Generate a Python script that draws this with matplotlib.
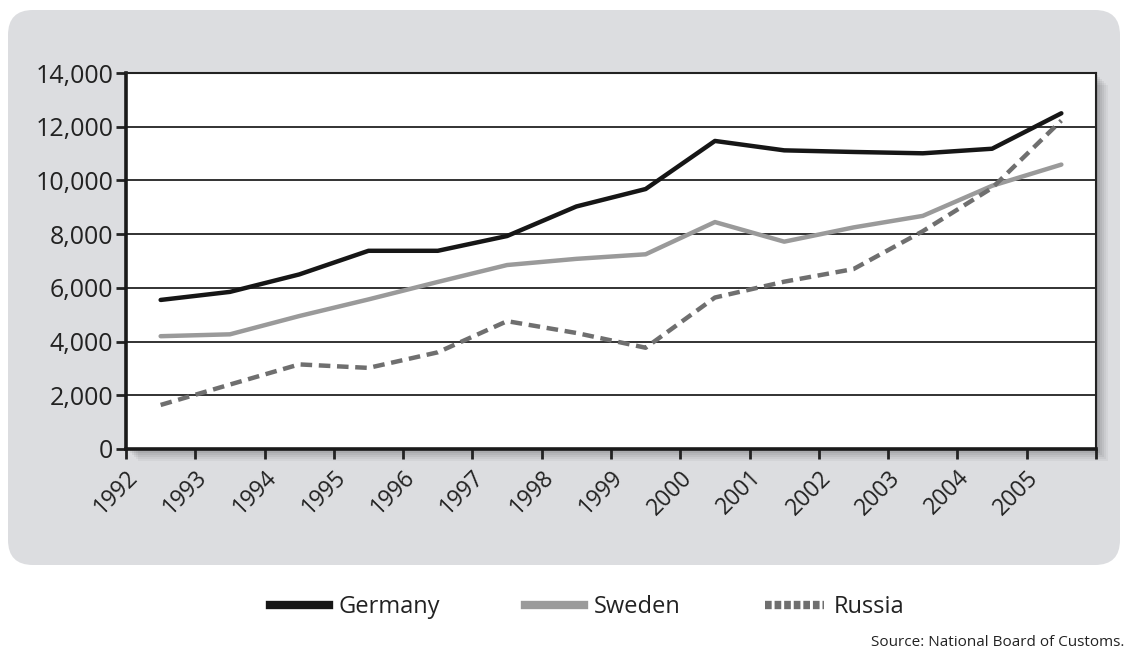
import matplotlib
matplotlib.use("Agg")
import matplotlib.pyplot as plt
from matplotlib.patches import FancyBboxPatch, Rectangle
from matplotlib.transforms import IdentityTransform
from matplotlib.lines import Line2D
import numpy as np

plt.rcParams['font.family'] = ['Open Sans', 'DejaVu Sans']

years = ['1992', '1993', '1994', '1995', '1996', '1997', '1998',
         '1999', '2000', '2001', '2002', '2003', '2004', '2005']
germany = [5550, 5850, 6500, 7380, 7380, 7930, 9030, 9680, 11470,
           11120, 11060, 11010, 11180, 12500]
sweden = [4200, 4270, 4950, 5570, 6220, 6850, 7080, 7250, 8450,
          7720, 8250, 8680, 9800, 10590]
russia = [1640, 2400, 3150, 3020, 3600, 4760, 4320, 3770, 5640,
          6230, 6700, 8110, 9720, 12230]
yticks = [0, 2000, 4000, 6000, 8000, 10000, 12000, 14000]

W, H = 1127, 656
fig = plt.figure(figsize=(W / 100, H / 100), dpi=100)
fig.patch.set_facecolor('white')

# rounded grey panel (pixel coords)
panel = FancyBboxPatch((8 + 25, 91 + 25), 1112 - 50, 555 - 50,
                       boxstyle="round,pad=25", transform=IdentityTransform(),
                       facecolor='#dcdde0', edgecolor='none', zorder=-3)
fig.patches.append(panel)

# plot area
L, R, T, B = 126, 1096, 73, 449
ax = fig.add_axes([L / W, 1 - B / H, (R - L) / W, (B - T) / H])

# drop shadow
for i, a in enumerate([0.04, 0.04, 0.05, 0.05, 0.06, 0.07]):
    off = 12 - 2 * i
    sh = Rectangle((L + off, H - B - off), R - L, B - T,
                   transform=IdentityTransform(), facecolor='black',
                   edgecolor='none', alpha=a, zorder=-1)
    fig.patches.append(sh)

x = np.arange(len(years)) + 0.5
ax.plot(x, germany, color='#161616', lw=3.2, solid_capstyle='round', zorder=3)
ax.plot(x, sweden, color='#9a9a9a', lw=3.2, solid_capstyle='round', zorder=3)
ax.plot(x, russia, color='#6f6f6f', lw=3.2, ls=(0, (2.6, 1.5)),
        dash_capstyle='butt', zorder=3)

ax.set_xlim(0, len(years))
ax.set_ylim(0, 14000)
ax.set_yticks(yticks)
ax.set_yticklabels([f"{v:,}" for v in yticks], fontsize=18, color='#222222')
ax.set_xticks(np.arange(len(years) + 1))
ax.set_xticklabels(years + [''], rotation=45, ha='right',
                   rotation_mode='anchor', fontsize=16.5, color='#222222')
ax.tick_params(axis='both', length=7, width=2, color='#222222', direction='out')
ax.tick_params(axis='x', pad=5)
ax.tick_params(axis='y', pad=2)
ax.grid(axis='y', color='#222222', lw=1.3, zorder=1)
ax.set_axisbelow(True)
for s in ['left', 'bottom']:
    ax.spines[s].set_linewidth(2.6)
    ax.spines[s].set_color('#1a1a1a')
for s in ['top', 'right']:
    ax.spines[s].set_linewidth(1.5)
    ax.spines[s].set_color('#222222')

handles = [Line2D([], [], color='#161616', lw=6),
           Line2D([], [], color='#9a9a9a', lw=6),
           Line2D([], [], color='#6f6f6f', lw=6, ls=(0, (0.8, 0.35)))]
fig.legend(handles, ['Germany', 'Sweden', 'Russia'], loc='center',
           bbox_to_anchor=(0.521, 1 - 607 / H), ncol=3, frameon=False,
           fontsize=17, handlelength=2.5, handletextpad=0.4,
           columnspacing=3.6, labelcolor='#222222')

fig.text(1124 / W, 1 - 643 / H, 'Source: National Board of Customs.',
         ha='right', va='center', fontsize=11, color='#222222')

fig.savefig('out.png', dpi=100)
